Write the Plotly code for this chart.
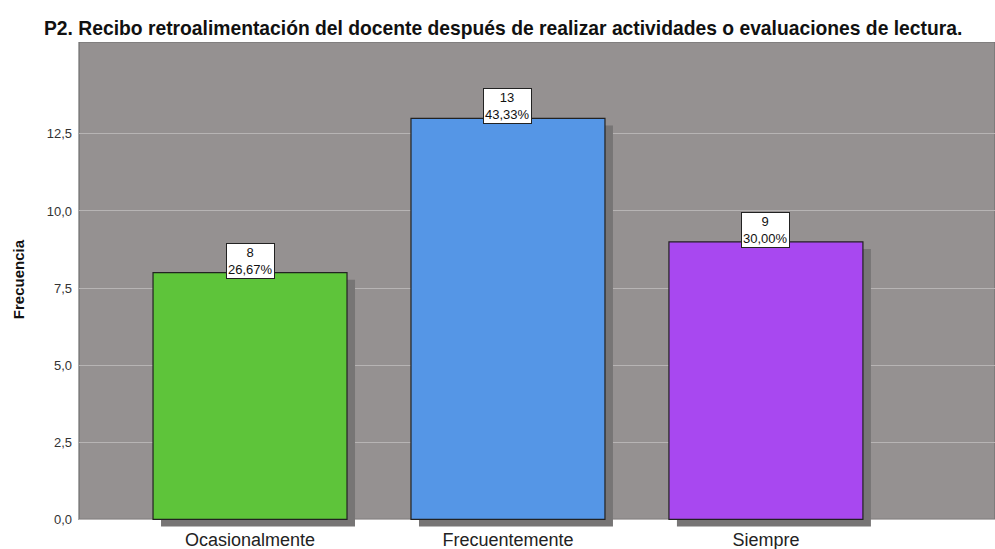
import plotly.graph_objects as go

# data
categories = ["Ocasionalmente", "Frecuentemente", "Siempre"]
counts = [8, 13, 9]
percents = ["26,67%", "43,33%", "30,00%"]
bar_colors = ["#5ec43a", "#5596e6", "#a848f0"]

TITLE = "P2. Recibo retroalimentación del docente después de realizar actividades o evaluaciones de lectura."
Y_TOP = 15.48
BAR_W = 0.752
SHADOW_DX = 0.031   # category units (~8 px)
SHADOW_DY = 0.23    # y units (~7 px)
BG = "#959191"

fig = go.Figure()

# drop shadow behind each bar
fig.add_trace(go.Bar(
    x=categories,
    y=counts,
    base=[-SHADOW_DY] * len(counts),
    width=BAR_W,
    offset=-BAR_W / 2 + SHADOW_DX,
    marker=dict(color="#777575", line_width=0),
    hoverinfo="skip",
    showlegend=False,
))

# main bars
fig.add_trace(go.Bar(
    x=categories,
    y=counts,
    width=BAR_W,
    marker=dict(color=bar_colors, line=dict(color="#222222", width=1.2)),
    showlegend=False,
))

# count / percent label boxes
for cat, v, p in zip(categories, counts, percents):
    fig.add_annotation(
        x=cat, y=v, xref="x", yref="y",
        text=f"{v}<br>{p}",
        showarrow=False,
        yanchor="bottom", yshift=-6,
        font=dict(family="Liberation Sans, Arial", size=13, color="#111111"),
        bgcolor="white", bordercolor="#222222", borderwidth=1, borderpad=1,
    )

# y axis title
fig.add_annotation(
    text="<b>Frecuencia</b>", xref="paper", yref="paper",
    x=-0.0666, y=0.511, xanchor="center", yanchor="middle",
    textangle=-90, showarrow=False,
    font=dict(family="Liberation Sans, Arial", size=15, color="#111111"),
)

# gray plotting region starting at y = 0 (shadows hang below it)
fig.add_shape(type="rect", xref="x domain", yref="y",
              x0=0, x1=1, y0=0, y1=Y_TOP,
              fillcolor=BG, line=dict(color="#6f6f6f", width=1.2), layer="below")

fig.update_layout(
    width=995, height=549,
    margin=dict(l=79, r=0, t=42, b=22, autoexpand=False),
    paper_bgcolor="white",
    plot_bgcolor="white",
    separators=",.",
    barmode="overlay",
    title=dict(text=f"<b>{TITLE}</b>", x=0.0442, xanchor="left", y=0.949, yanchor="middle",
               font=dict(family="Liberation Sans, Arial", size=19.3, color="#111111")),
    font=dict(family="Liberation Sans, Arial"),
)

fig.update_xaxes(
    range=[-0.663, 2.888], automargin=False,
    showgrid=False, zeroline=False, showline=False,
    ticks="", tickfont=dict(family="Liberation Sans Narrow, Liberation Sans", size=18, color="#222222"),
)

fig.update_yaxes(
    range=[-SHADOW_DY - 0.02, Y_TOP], automargin=False,
    tickvals=[0, 2.5, 5, 7.5, 10, 12.5],
    tickformat=".1f", ticklabelstandoff=6,
    showgrid=True, gridcolor="#b7b4b4", gridwidth=1,
    zeroline=False, showline=False, ticks="",
    tickfont=dict(size=13, color="#333333"),
)

# the page's default body margin would shift the figure by 8 px
fig.write_html("out.html", config={"displayModeBar": False},
               post_script="document.body.style.margin='0';")
